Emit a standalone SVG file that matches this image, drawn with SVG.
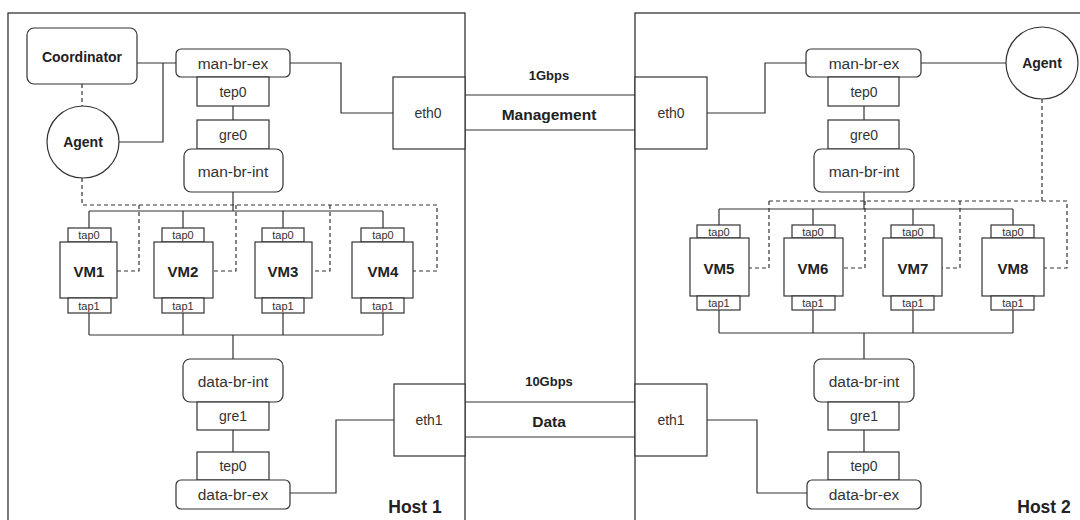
<svg xmlns="http://www.w3.org/2000/svg" width="1080" height="520" viewBox="0 0 1080 520">
<style>
.box{fill:#fff;stroke:#333;stroke-width:1.2}
.host{fill:none;stroke:#222;stroke-width:1.2}
.ln{fill:none;stroke:#333;stroke-width:1.2}
.ds{fill:none;stroke:#333;stroke-width:1.2;stroke-dasharray:4 3}
text{font-family:"Liberation Sans",Arial,sans-serif;fill:#333;text-anchor:middle;dominant-baseline:central}
.br{font-size:15.5px}
.pt{font-size:14px}
.tap{font-size:11px}
.vm{font-size:15px;font-weight:bold;fill:#222}
.b{font-weight:bold;fill:#222}
</style>
<rect width="1080" height="520" fill="#fff"/>
<g id="host1"><rect class="host" x="8" y="13" width="457" height="520"/><text class="b" x="415" y="507" font-size="17.5">Host 1</text></g>
<g id="host2"><rect class="host" x="635" y="13" width="460" height="520"/><text class="b" x="1044" y="507" font-size="17.5">Host 2</text></g>
<g id="connectors">
<path class="ln" d="M465 95H635M465 130H635M465 402H635M465 437H635"/>
<path class="ln" d="M137 63H176M163 63V142H119M290 63H341V113H393M233 106V120M233 192V211M89 211H383M89 211V228M183 211V228M283 211V228M383 211V228"/>
<path class="ln" d="M89 313V335M183 313V335M283 313V335M383 313V335M89 335H383M233 335V359M233 430V452M290 493H336V420H394"/>
<path class="ds" d="M82 84V106M82 178V205H437V271H413M139 205V271H117M236 205V271H213M330 205V271H312"/>
<path class="ln" d="M707 113H765V63H806M921 63H1006M864 106V120M864 192V209M719 209H1013M719 209V225M813 209V225M913 209V225M1013 209V225"/>
<path class="ln" d="M719 310V333M813 310V333M913 310V333M1013 310V333M719 333H1013M864 333V359M864 430V452M707 420H757V493H807"/>
<path class="ds" d="M1042 99V201M769 201H1067V268H1044M769 201V268H749M865 201V268H843M960 201V268H942"/>
</g>
<g id="link-mgmt"><text class="b" x="549" y="75" font-size="13">1Gbps</text><text class="b" x="549" y="114" font-size="15.5">Management</text></g>
<g id="link-data"><text class="b" x="549" y="381" font-size="13">10Gbps</text><text class="b" x="549" y="421" font-size="15.5">Data</text></g>
<g id="coordinator"><rect class="box" x="27" y="28" width="110" height="56" rx="7"/><text class="b" x="82" y="57" font-size="14">Coordinator</text></g>
<g id="agent1"><circle class="box" cx="83" cy="142" r="36"/><text class="b" x="83" y="142" font-size="14">Agent</text></g>
<g id="h1-man-br-ex"><rect class="box" x="176" y="49" width="114" height="28" rx="5"/><text class="br" x="233" y="63">man-br-ex</text></g>
<g id="h1-tep0"><rect class="box" x="197" y="77" width="72" height="29"/><text class="pt" x="233" y="92">tep0</text></g>
<g id="h1-gre0"><rect class="box" x="197" y="120" width="72" height="29"/><text class="pt" x="233" y="135">gre0</text></g>
<g id="h1-man-br-int"><rect class="box" x="184" y="149" width="99" height="43" rx="7"/><text class="br" x="233" y="171">man-br-int</text></g>
<g id="h1-eth0"><rect class="box" x="393" y="77" width="72" height="72"/><text class="pt" x="428" y="113">eth0</text></g>
<g id="vm1"><rect class="box" x="68" y="228" width="43" height="14"/><text class="tap" x="89" y="235">tap0</text><rect class="box" x="60" y="242" width="57" height="56"/><text class="vm" x="89" y="271">VM1</text><rect class="box" x="68" y="298" width="43" height="15"/><text class="tap" x="89" y="306">tap1</text></g>
<g id="vm2"><rect class="box" x="162" y="228" width="42" height="14"/><text class="tap" x="183" y="235">tap0</text><rect class="box" x="154" y="242" width="59" height="56"/><text class="vm" x="183" y="271">VM2</text><rect class="box" x="162" y="298" width="42" height="15"/><text class="tap" x="183" y="306">tap1</text></g>
<g id="vm3"><rect class="box" x="262" y="228" width="42" height="14"/><text class="tap" x="283" y="235">tap0</text><rect class="box" x="255" y="242" width="57" height="56"/><text class="vm" x="283" y="271">VM3</text><rect class="box" x="262" y="298" width="42" height="15"/><text class="tap" x="283" y="306">tap1</text></g>
<g id="vm4"><rect class="box" x="361" y="228" width="43" height="14"/><text class="tap" x="383" y="235">tap0</text><rect class="box" x="352" y="242" width="61" height="56"/><text class="vm" x="383" y="271">VM4</text><rect class="box" x="361" y="298" width="43" height="15"/><text class="tap" x="383" y="306">tap1</text></g>
<g id="h1-data-br-int"><rect class="box" x="183" y="359" width="100" height="43" rx="7"/><text class="br" x="233" y="381">data-br-int</text></g>
<g id="h1-gre1"><rect class="box" x="197" y="402" width="72" height="28"/><text class="pt" x="233" y="416">gre1</text></g>
<g id="h1-tep0b"><rect class="box" x="197" y="452" width="72" height="28"/><text class="pt" x="233" y="466">tep0</text></g>
<g id="h1-data-br-ex"><rect class="box" x="176" y="480" width="114" height="29" rx="5"/><text class="br" x="233" y="494">data-br-ex</text></g>
<g id="h1-eth1"><rect class="box" x="394" y="384" width="71" height="72"/><text class="pt" x="429" y="420">eth1</text></g>
<g id="h2-eth0"><rect class="box" x="635" y="77" width="72" height="72"/><text class="pt" x="671" y="113">eth0</text></g>
<g id="h2-man-br-ex"><rect class="box" x="806" y="49" width="115" height="28" rx="5"/><text class="br" x="864" y="63">man-br-ex</text></g>
<g id="h2-tep0"><rect class="box" x="828" y="77" width="71" height="29"/><text class="pt" x="864" y="92">tep0</text></g>
<g id="h2-gre0"><rect class="box" x="828" y="120" width="71" height="29"/><text class="pt" x="864" y="135">gre0</text></g>
<g id="h2-man-br-int"><rect class="box" x="814" y="149" width="100" height="43" rx="7"/><text class="br" x="864" y="171">man-br-int</text></g>
<g id="agent2"><circle class="box" cx="1042" cy="63" r="36"/><text class="b" x="1042" y="63" font-size="14">Agent</text></g>
<g id="vm5"><rect class="box" x="697" y="225" width="43" height="13"/><text class="tap" x="719" y="232">tap0</text><rect class="box" x="690" y="238" width="59" height="58"/><text class="vm" x="719" y="268">VM5</text><rect class="box" x="697" y="296" width="43" height="14"/><text class="tap" x="719" y="303">tap1</text></g>
<g id="vm6"><rect class="box" x="792" y="225" width="43" height="13"/><text class="tap" x="813" y="232">tap0</text><rect class="box" x="784" y="238" width="59" height="58"/><text class="vm" x="813" y="268">VM6</text><rect class="box" x="792" y="296" width="43" height="14"/><text class="tap" x="813" y="303">tap1</text></g>
<g id="vm7"><rect class="box" x="891" y="225" width="43" height="13"/><text class="tap" x="913" y="232">tap0</text><rect class="box" x="883" y="238" width="59" height="58"/><text class="vm" x="913" y="268">VM7</text><rect class="box" x="891" y="296" width="43" height="14"/><text class="tap" x="913" y="303">tap1</text></g>
<g id="vm8"><rect class="box" x="991" y="225" width="43" height="13"/><text class="tap" x="1013" y="232">tap0</text><rect class="box" x="982" y="238" width="62" height="58"/><text class="vm" x="1013" y="268">VM8</text><rect class="box" x="991" y="296" width="43" height="14"/><text class="tap" x="1013" y="303">tap1</text></g>
<g id="h2-data-br-int"><rect class="box" x="814" y="359" width="100" height="43" rx="7"/><text class="br" x="864" y="381">data-br-int</text></g>
<g id="h2-gre1"><rect class="box" x="828" y="402" width="71" height="28"/><text class="pt" x="864" y="416">gre1</text></g>
<g id="h2-tep0b"><rect class="box" x="828" y="452" width="71" height="28"/><text class="pt" x="864" y="466">tep0</text></g>
<g id="h2-data-br-ex"><rect class="box" x="807" y="480" width="114" height="29" rx="5"/><text class="br" x="864" y="494">data-br-ex</text></g>
<g id="h2-eth1"><rect class="box" x="635" y="384" width="72" height="72"/><text class="pt" x="671" y="420">eth1</text></g>
</svg>
